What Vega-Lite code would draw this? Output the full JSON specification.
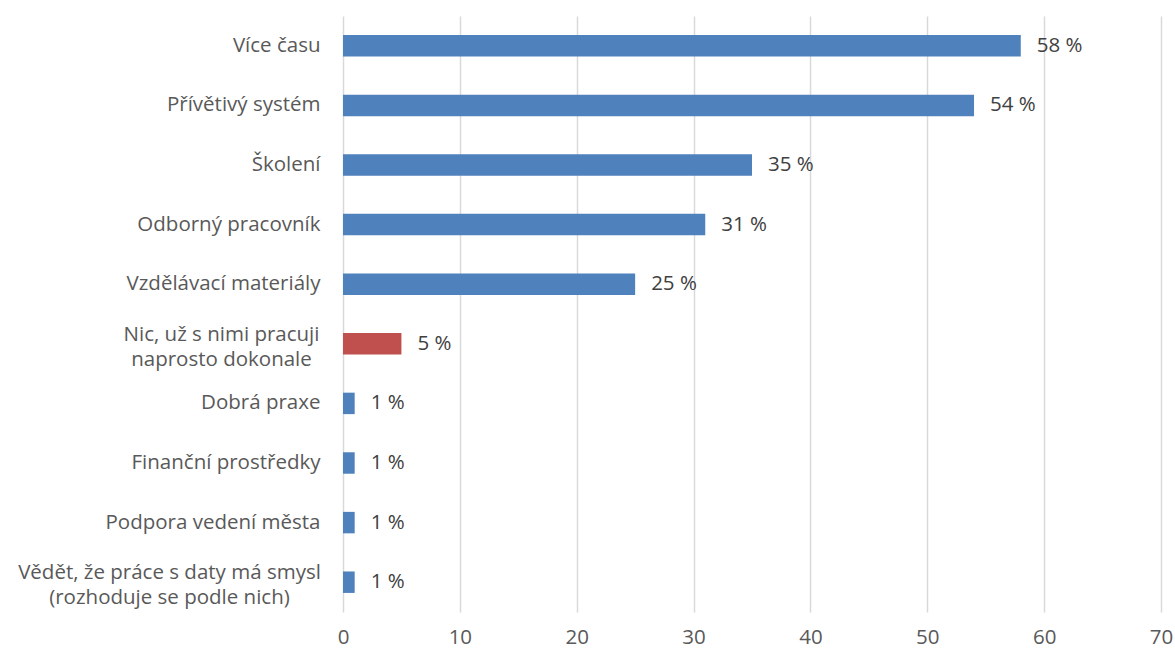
{
  "$schema": "https://vega.github.io/schema/vega-lite/v6.json",
  "width": 818,
  "height": 596,
  "autosize": {"type": "none"},
  "padding": {"left": 343, "top": 16, "right": 14, "bottom": 40},
  "background": "white",
  "config": {
    "view": {"stroke": null},
    "font": "Open Sans"
  },
  "data": {
    "values": [
      {"kat": "Více času", "hodnota": 58, "popisek": "58 %", "typ": "a"},
      {"kat": "Přívětivý systém", "hodnota": 54, "popisek": "54 %", "typ": "a"},
      {"kat": "Školení", "hodnota": 35, "popisek": "35 %", "typ": "a"},
      {"kat": "Odborný pracovník", "hodnota": 31, "popisek": "31 %", "typ": "a"},
      {"kat": "Vzdělávací materiály", "hodnota": 25, "popisek": "25 %", "typ": "a"},
      {"kat": "Nic, už s nimi pracuji|naprosto dokonale", "hodnota": 5, "popisek": "5 %", "typ": "b"},
      {"kat": "Dobrá praxe", "hodnota": 1, "popisek": "1 %", "typ": "a"},
      {"kat": "Finanční prostředky", "hodnota": 1, "popisek": "1 %", "typ": "a"},
      {"kat": "Podpora vedení města", "hodnota": 1, "popisek": "1 %", "typ": "a"},
      {"kat": "Vědět, že práce s daty má smysl|(rozhoduje se podle nich)", "hodnota": 1, "popisek": "1 %", "typ": "a"}
    ]
  },
  "encoding": {
    "y": {
      "field": "kat",
      "type": "nominal",
      "sort": null,
      "scale": {"paddingInner": 0.64, "paddingOuter": 0.32},
      "axis": {
        "title": null,
        "domain": false,
        "ticks": false,
        "labelPadding": {
          "condition": [
            {"test": "indexof(datum.value, 'Nic,') == 0", "value": 122},
            {"test": "indexof(datum.value, 'smysl') >= 0", "value": 174}
          ],
          "value": 23
        },
        "labelAlign": {"condition": {"test": "indexof(datum.value, '|') >= 0", "value": "center"}, "value": "right"},
        "labelFontSize": 20.5,
        "labelColor": "#595959",
        "labelLineHeight": 25,
        "labelLimit": 400,
        "labelOffset": {"condition": {"test": "indexof(datum.value, '|') >= 0", "value": -9}, "value": 0},
        "labelExpr": "split(datum.value, '|')"
      }
    },
    "x": {
      "field": "hodnota",
      "type": "quantitative",
      "scale": {"domain": [0, 70], "nice": false},
      "axis": {
        "title": null,
        "values": [0, 10, 20, 30, 40, 50, 60, 70],
        "domain": false,
        "ticks": false,
        "grid": true,
        "gridColor": "#D9D9D9",
        "gridWidth": 1.5,
        "labelPadding": 15,
        "labelFontSize": 20.5,
        "labelColor": "#595959",
        "labelFlush": false
      }
    }
  },
  "layer": [
    {
      "mark": {"type": "bar"},
      "encoding": {
        "color": {
          "field": "typ",
          "type": "nominal",
          "scale": {"domain": ["a", "b"], "range": ["#4F81BD", "#C0504D"]},
          "legend": null
        }
      }
    },
    {
      "mark": {"type": "text", "align": "left", "dx": 16, "fontSize": 20.5, "color": "#404040"},
      "encoding": {
        "text": {"field": "popisek", "type": "nominal"}
      }
    }
  ]
}
